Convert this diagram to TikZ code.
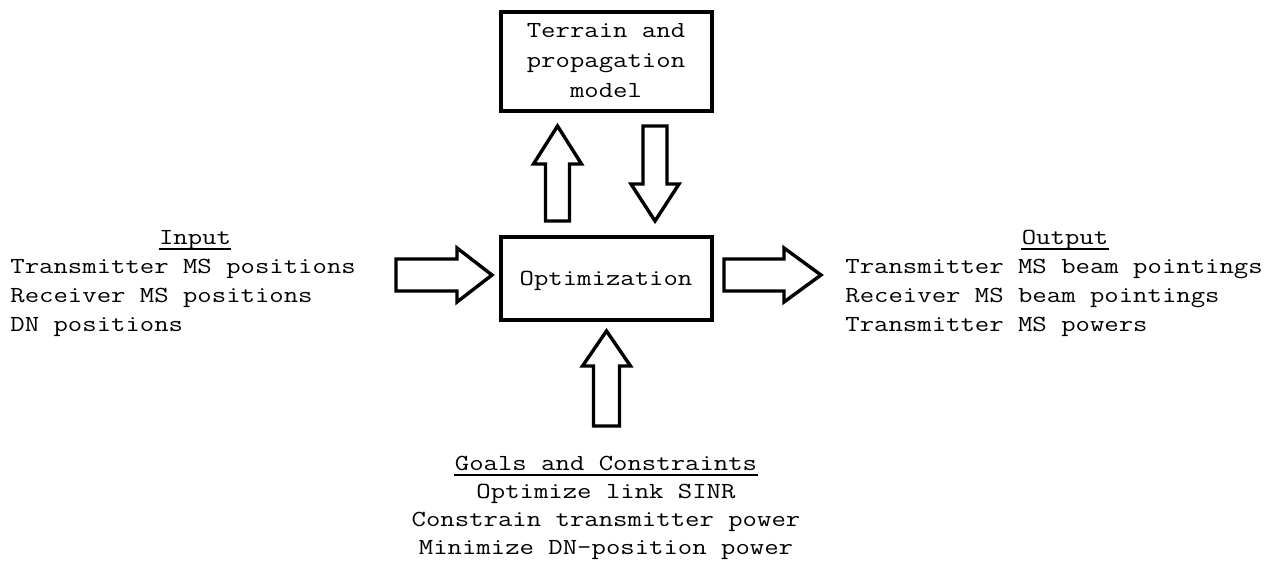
\documentclass[tikz,border=0pt]{standalone}
\usepackage{fontspec}
\newfontfamily\labelfont[FakeStretch=1.215]{Latin Modern Mono}
\usetikzlibrary{calc}

% Outlined block arrow from #1 (tail centre) to #2 (tip):
% #3 half shaft width, #4 half head width, #5 head length
\newcommand\blockarrow[5]{%
  \draw[blockline]
    ($(#1)!#3!90:(#2)$) --
    ($($(#2)!#5!(#1)$)!#3!90:(#2)$) --
    ($($(#2)!#5!(#1)$)!#4!90:(#2)$) --
    (#2) --
    ($($(#2)!#5!(#1)$)!#4!-90:(#2)$) --
    ($($(#2)!#5!(#1)$)!#3!-90:(#2)$) --
    ($(#1)!#3!-90:(#2)$) -- cycle;}

\begin{document}
\begin{tikzpicture}[x=0.5pt,y=-0.5pt,
  txt/.style={inner sep=0pt,font=\labelfont\fontsize{11.5}{14}\selectfont},
  block/.style={draw,line width=2pt,inner sep=0pt},
  blockline/.style={line width=1.7pt,line join=miter},
  uline/.style={line width=0.6pt}]
\useasboundingbox (0,0) rectangle (1270,562);

% main blocks
\node[block,minimum width=105.5pt,minimum height=49.5pt] (terrain) at (606,61.5) {};
\node[block,minimum width=105.5pt,minimum height=41.5pt] (opt) at (606,278.5) {};

\node[txt,anchor=base] (t1) at (606,38) {Terrain and};
\node[txt,anchor=base] (t2) at (606,67) {propagation};
\node[txt,anchor=base] (t3) at (606,97) {model};
\node[txt,anchor=base] (optlabel) at (606,285) {Optimization};

% input list
\node[txt,anchor=base] (inhead) at (195,244) {Input};
\draw[uline] ($(inhead.base west)+(0,5)$) -- ($(inhead.base east)+(0,5)$);
\node[txt,anchor=base west] (in1) at (10,273) {Transmitter MS positions};
\node[txt,anchor=base west] (in2) at (10,302) {Receiver MS positions};
\node[txt,anchor=base west] (in3) at (10,331) {DN positions};

% output list
\node[txt,anchor=base] (outhead) at (1065,244) {Output};
\draw[uline] ($(outhead.base west)+(0,5)$) -- ($(outhead.base east)+(0,5)$);
\node[txt,anchor=base west] (out1) at (845,273) {Transmitter MS beam pointings};
\node[txt,anchor=base west] (out2) at (845,302) {Receiver MS beam pointings};
\node[txt,anchor=base west] (out3) at (845,331) {Transmitter MS powers};

% goals and constraints
\node[txt,anchor=base] (ghead) at (606,470) {Goals and Constraints};
\draw[uline] ($(ghead.base west)+(0,5)$) -- ($(ghead.base east)+(0,5)$);
\node[txt,anchor=base] (g1) at (606,498) {Optimize link SINR};
\node[txt,anchor=base] (g2) at (606,526) {Constrain transmitter power};
\node[txt,anchor=base] (g3) at (606,554) {Minimize DN-position power};

% arrow end points
\coordinate (inA) at (396,275);   \coordinate (inB) at (492,275);
\coordinate (outA) at (724,275);  \coordinate (outB) at (821,275);
\coordinate (upA) at (557.5,221); \coordinate (upB) at (557.5,126);
\coordinate (dnA) at (655,126);   \coordinate (dnB) at (655,221);
\coordinate (gA) at (606.5,426);  \coordinate (gB) at (606.5,331);

\blockarrow{inA}{inB}{8pt}{13.5pt}{17.5pt}
\blockarrow{outA}{outB}{8pt}{13.5pt}{18.5pt}
\blockarrow{upA}{upB}{6pt}{12pt}{19pt}
\blockarrow{dnA}{dnB}{6pt}{12pt}{18.5pt}
\blockarrow{gA}{gB}{6.5pt}{12pt}{17.5pt}
\end{tikzpicture}
\end{document}
